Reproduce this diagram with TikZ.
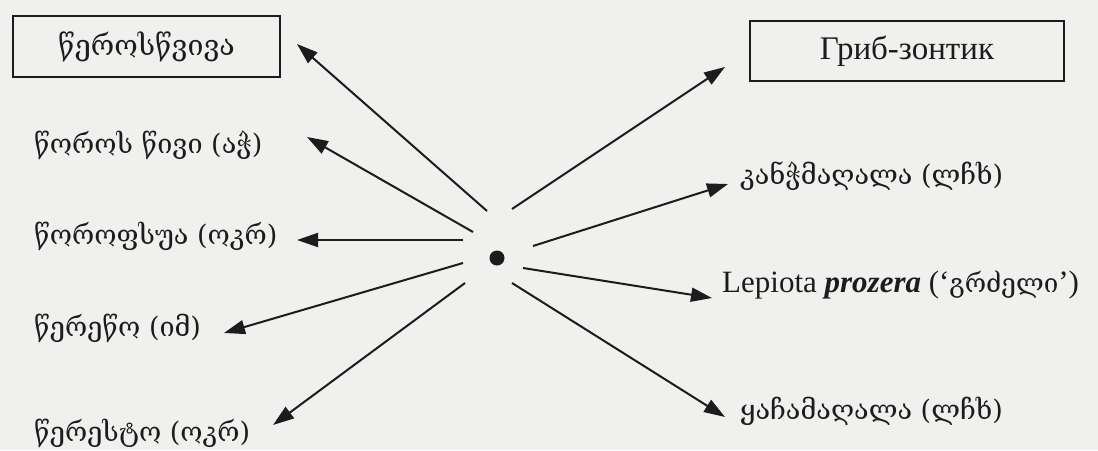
\documentclass[tikz,border=0pt]{standalone}
\usepackage{fontspec}
\setmainfont{Liberation Serif}
\newfontfamily\geofont{DejaVu Serif}
\usetikzlibrary{arrows.meta}
\definecolor{paper}{RGB}{240,240,238}
\definecolor{ink}{RGB}{28,28,28}
\newcommand{\geo}[1]{{\geofont #1}}
\tikzset{
  lab/.style={text=ink, inner sep=0pt, font=\fontsize{27}{31}\selectfont},
  latlab/.style={text=ink, inner sep=0pt, font=\fontsize{31}{36}\selectfont},
  boxlab/.style={draw=ink, line width=1.6pt, inner sep=0pt, text=ink},
  arr/.style={draw=ink, line width=2pt, -{Triangle[length=21pt,width=14pt]}},
}
\begin{document}
\begin{tikzpicture}[x=1pt,y=-1pt]
\fill[paper] (0,0) rectangle (1098,450);
\useasboundingbox (0,0) rectangle (1098,450);
% boxes
\node[boxlab, minimum width=267pt, minimum height=61pt, font=\fontsize{28.5}{33}\selectfont] (b1) at (146.5,46.5) {\geo{წეროსწვივა}};
\node[boxlab, minimum width=314pt, minimum height=60pt, font=\fontsize{33}{38}\selectfont] (b2) at (907,51) {Гриб-зонтик};
% left labels
\node[lab, anchor=west] (l1) at (34,145) {\geo{წოროს წივი (აჭ)}};
\node[lab, anchor=west] (l2) at (34,236) {\geo{წოროფსუა (ოკრ)}};
\node[lab, anchor=west] (l3) at (34,328) {\geo{წერეწო (იმ)}};
\node[lab, anchor=west] (l4) at (34,433) {\geo{წერესტო (ოკრ)}};
% right labels
\node[lab, anchor=west] (r1) at (740,176) {\geo{კანჭმაღალა (ლჩხ)}};
\node[latlab, anchor=west] (r2) at (722,285) {Lepiota \textbf{\textit{prozera}} (‘{\geofont\fontsize{26}{30}\selectfont გრძელი}’)};
\node[lab, anchor=west] (r3) at (740,411) {\geo{ყაჩამაღალა (ლჩხ)}};
% centre dot
\node[circle, fill=ink, minimum size=15pt, inner sep=0pt] (dot) at (497,258) {};
% arrow ends
\coordinate (s1) at (487,211); \coordinate (t1) at (297,44);
\coordinate (s2) at (473,232); \coordinate (t2) at (307,137);
\coordinate (s3) at (463,240); \coordinate (t3) at (297,240);
\coordinate (s4) at (463,263); \coordinate (t4) at (224,333);
\coordinate (s5) at (465,283); \coordinate (t5) at (273,425);
\coordinate (s6) at (512,209); \coordinate (t6) at (725,67);
\coordinate (s7) at (533,246); \coordinate (t7) at (728,184);
\coordinate (s8) at (523,268); \coordinate (t8) at (712,298);
\coordinate (s9) at (512,283); \coordinate (t9) at (725,417);
\foreach \i in {1,...,9} {\draw[arr] (s\i) -- (t\i);}
\end{tikzpicture}
\end{document}
